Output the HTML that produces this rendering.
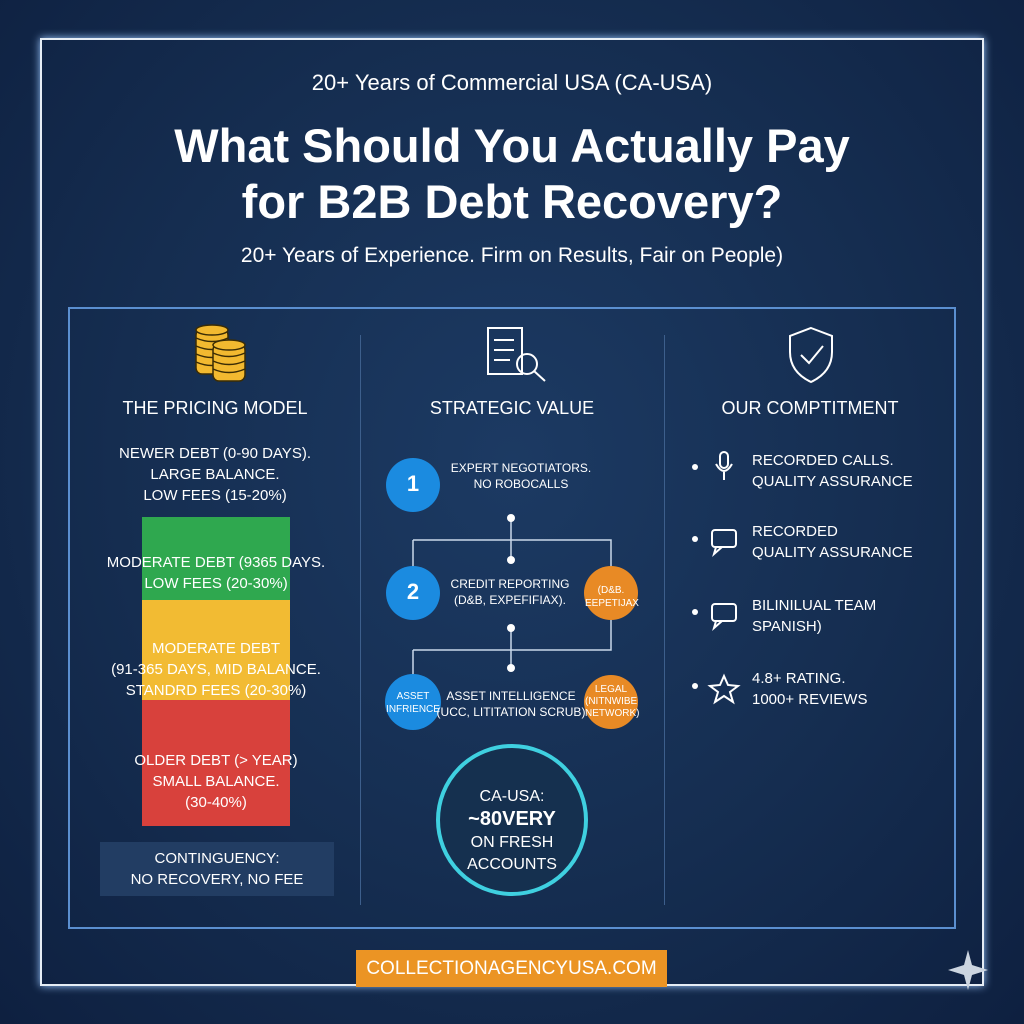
<!DOCTYPE html><html><head><style>
body{margin:0;width:1024px;height:1024px;background:radial-gradient(ellipse at 50% 45%,#1c3a63 0%,#152d50 55%,#0e2040 100%);font-family:"Liberation Sans",sans-serif;color:#fff;position:relative;overflow:hidden}
.a{position:absolute}
.c{text-align:center}
.t{font-size:15px;line-height:21px;text-transform:uppercase}
</style></head><body>
<div class="a" style="left:40px;top:38px;width:944px;height:948px;border:2px solid #e6edf5;box-sizing:border-box;box-shadow:0 0 8px #9cc8ff"></div>
<div class="a c" style="left:0;top:70px;width:1024px;font-size:22px">20+ Years of Commercial USA (CA-USA)</div>
<div class="a c" style="left:0;top:118px;width:1024px;font-size:47px;font-weight:bold;line-height:56px">What Should You Actually Pay<br>for B2B Debt Recovery?</div>
<div class="a c" style="left:0;top:244px;width:1024px;font-size:21px">20+ Years of Experience. Firm on Results, Fair on People)</div>
<div class="a" style="left:68px;top:307px;width:888px;height:622px;border:2px solid #5b8fd0;box-sizing:border-box"></div>
<div class="a" style="left:360px;top:335px;width:1px;height:570px;background:#3d5f8c"></div>
<div class="a" style="left:664px;top:335px;width:1px;height:570px;background:#3d5f8c"></div>
<svg class="a" style="left:0;top:0" width="1024" height="1024">
<g fill="#f2b930" stroke="#3a2c05" stroke-width="1.5">
<rect x="196" y="329" width="32" height="45" rx="6"/><ellipse cx="212" cy="330" rx="16" ry="5"/>
<path d="M196 338 Q212 345 228 338 M196 346 Q212 353 228 346 M196 354 Q212 361 228 354 M196 362 Q212 369 228 362" fill="none"/>
<rect x="213" y="344" width="32" height="37" rx="6"/><ellipse cx="229" cy="345" rx="16" ry="5"/>
<path d="M213 353 Q229 360 245 353 M213 361 Q229 368 245 361 M213 369 Q229 376 245 369" fill="none"/></g>
<g fill="none" stroke="#fff" stroke-width="2"><rect x="488" y="328" width="34" height="46"/><circle cx="527" cy="364" r="10"/><line x1="534" y1="371" x2="545" y2="381"/><line x1="494" y1="340" x2="514" y2="340"/><line x1="494" y1="350" x2="514" y2="350"/><line x1="494" y1="360" x2="510" y2="360"/>
<path d="M811 328 L832 336 V352 Q832 372 811 382 Q790 372 790 352 V336 Z"/><path d="M801 355 L809 363 L823 346"/>
<path d="M413 540 H611 V570 M413 540 V566 M413 650 H611 V620 M413 650 V676 M511 518 V560 M511 628 V668" stroke="#c9d8ea" stroke-width="1.5"/></g>
<g fill="#fff"><circle cx="511" cy="518" r="4"/><circle cx="511" cy="560" r="4"/><circle cx="511" cy="628" r="4"/><circle cx="511" cy="668" r="4"/></g>
<circle cx="413" cy="485" r="27" fill="#1b8be0"/><circle cx="413" cy="593" r="27" fill="#1b8be0"/><circle cx="413" cy="702" r="28" fill="#1b8be0"/>
<circle cx="611" cy="593" r="27" fill="#e88a25"/><circle cx="611" cy="702" r="27" fill="#e88a25"/>
<circle cx="512" cy="820" r="74" fill="#15304f" stroke="#3fd0e0" stroke-width="4"/>
<g fill="#fff"><circle cx="695" cy="467" r="3"/><circle cx="695" cy="539" r="3"/><circle cx="695" cy="612" r="3"/><circle cx="695" cy="686" r="3"/></g>
<g fill="none" stroke="#fff" stroke-width="2"><rect x="720" y="452" width="8" height="16" rx="4"/><path d="M716 464 Q724 478 732 464 M724 472 V480"/>
<rect x="712" y="530" width="24" height="17" rx="3"/><path d="M716 547 L714 554 L722 547"/>
<rect x="712" y="604" width="24" height="17" rx="3"/><path d="M716 621 L714 628 L722 621"/>
<path d="M724 676 L728 685 L738 686 L730 692 L733 702 L724 696 L715 702 L718 692 L710 686 L720 685 Z"/></g>
<path d="M968 950 L972 965 L988 970 L972 975 L968 990 L964 975 L948 970 L964 965Z" fill="#ccd5e0"/>
</svg>
<div class="a c" style="left:70px;top:398px;width:290px;font-size:18px">THE PRICING MODEL</div>
<div class="a c t" style="left:70px;top:443px;width:290px">NEWER DEBT (0-90 DAYS).<br>LARGE BALANCE.<br>LOW FEES (15-20%)</div>
<div class="a" style="left:142px;top:517px;width:148px;height:83px;background:#2fa84f"></div>
<div class="a" style="left:142px;top:600px;width:148px;height:100px;background:#f2bb33"></div>
<div class="a" style="left:142px;top:700px;width:148px;height:126px;background:#d8413c"></div>
<div class="a c t" style="left:100px;top:552px;width:232px">MODERATE DEBT (9365 DAYS.<br>LOW FEES (20-30%)</div>
<div class="a c t" style="left:100px;top:638px;width:232px">MODERATE DEBT<br>(91-365 DAYS, MID BALANCE.<br>STANDRD FEES (20-30%)</div>
<div class="a c t" style="left:100px;top:750px;width:232px">OLDER DEBT (&gt; YEAR)<br>SMALL BALANCE.<br>(30-40%)</div>
<div class="a c t" style="left:100px;top:842px;width:234px;height:54px;background:#223d63;padding-top:6px;box-sizing:border-box">CONTINGUENCY:<br>NO RECOVERY, NO FEE</div>
<div class="a c" style="left:362px;top:398px;width:300px;font-size:18px">STRATEGIC VALUE</div>
<div class="a c" style="left:400px;top:471px;font-size:22px;width:26px;font-weight:bold">1</div>
<div class="a c" style="left:400px;top:579px;font-size:22px;width:26px;font-weight:bold">2</div>
<div class="a c" style="left:436px;top:460px;width:170px;font-size:12px;line-height:16px;white-space:nowrap">EXPERT NEGOTIATORS.<br>NO ROBOCALLS</div>
<div class="a c" style="left:440px;top:576px;width:140px;font-size:12px;line-height:16px">CREDIT REPORTING<br>(D&amp;B, EXPEFIFIAX).</div>
<div class="a c" style="left:436px;top:688px;width:150px;font-size:12px;line-height:16px;white-space:nowrap">ASSET INTELLIGENCE<br>(UCC, LITITATION SCRUB)</div>
<div class="a c" style="left:385px;top:690px;width:56px;font-size:10px;line-height:13px">ASSET<br>INFRIENCE</div>
<div class="a c" style="left:585px;top:584px;width:52px;font-size:10px;line-height:13px">(D&amp;B.<br>EEPETIJAX</div>
<div class="a c" style="left:585px;top:684px;width:52px;font-size:10px;line-height:12px">LEGAL<br>(NITNWIBE<br>NETWORK)</div>
<div class="a c" style="left:440px;top:786px;width:144px;font-size:16px;line-height:22px">CA-USA:<br><b style="font-size:20px">~80VERY</b><br>ON FRESH<br>ACCOUNTS</div>
<div class="a c" style="left:665px;top:398px;width:290px;font-size:18px">OUR COMPTITMENT</div>
<div class="a t" style="left:752px;top:450px">RECORDED CALLS.<br>QUALITY ASSURANCE</div>
<div class="a t" style="left:752px;top:521px">RECORDED<br>QUALITY ASSURANCE</div>
<div class="a t" style="left:752px;top:595px">BILINILUAL TEAM<br>SPANISH)</div>
<div class="a t" style="left:752px;top:668px">4.8+ RATING.<br>1000+ REVIEWS</div>
<div class="a c" style="left:356px;top:950px;width:311px;height:37px;background:#eb9424;font-size:19px;line-height:37px">COLLECTIONAGENCYUSA.COM</div>
</body></html>
